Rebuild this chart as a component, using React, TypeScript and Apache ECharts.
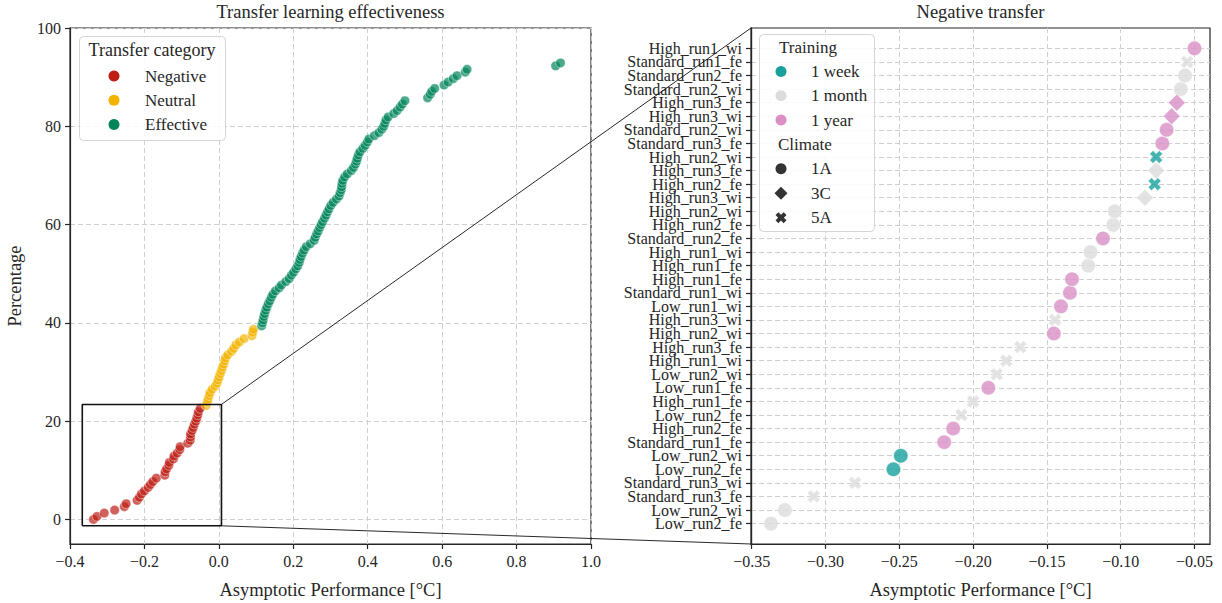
import React, { useEffect, useRef } from "react";
import * as echarts from "echarts";

// ---------------- data ----------------
// Right panel (negative transfer), bottom -> top
const negLabels = [
  "Low_run2_fe", "Low_run2_wi", "Standard_run3_fe", "Standard_run3_wi", "Low_run2_fe", "Low_run2_wi",
  "Standard_run1_fe", "High_run2_fe", "Low_run2_fe", "High_run1_fe", "Low_run1_fe", "Low_run2_wi",
  "High_run1_wi", "High_run3_fe", "High_run2_wi", "High_run3_wi", "Low_run1_wi", "Standard_run1_wi",
  "High_run1_fe", "High_run1_fe", "High_run1_wi", "Standard_run2_fe", "High_run2_fe", "High_run2_wi",
  "High_run3_wi", "High_run2_fe", "High_run3_fe", "High_run2_wi", "Standard_run3_fe", "Standard_run2_wi",
  "High_run3_wi", "High_run3_fe", "Standard_run2_wi", "Standard_run2_fe", "Standard_run1_fe", "High_run1_wi",
];
const negValues = [
  -0.337, -0.3275, -0.308, -0.28, -0.254, -0.249, -0.2196, -0.2135, -0.208, -0.2, -0.1897, -0.184,
  -0.1775, -0.168, -0.1453, -0.1445, -0.1405, -0.1344, -0.133, -0.122, -0.1205, -0.112, -0.105, -0.104,
  -0.0836, -0.077, -0.076, -0.076, -0.0718, -0.0689, -0.0655, -0.062, -0.0593, -0.0564, -0.055, -0.05,
];
const negTraining = [
  "1 month", "1 month", "1 month", "1 month", "1 week", "1 week", "1 year", "1 year", "1 month", "1 month", "1 year", "1 month",
  "1 month", "1 month", "1 year", "1 month", "1 year", "1 year", "1 year", "1 month", "1 month", "1 year", "1 month", "1 month",
  "1 month", "1 week", "1 month", "1 week", "1 year", "1 year", "1 year", "1 year", "1 month", "1 month", "1 month", "1 year",
];
const negClimate = [
  "1A", "1A", "5A", "5A", "1A", "1A", "1A", "1A", "5A", "5A", "1A", "5A",
  "5A", "5A", "1A", "5A", "1A", "1A", "1A", "1A", "1A", "1A", "1A", "1A",
  "3C", "5A", "3C", "5A", "1A", "1A", "3C", "3C", "1A", "1A", "5A", "1A",
];
// Left panel percentages for the negative runs (same x values as negValues)
const negPercent = [
  0.0, 0.6, 1.3, 1.9, 2.6, 3.2, 3.9, 4.5, 5.2, 5.8, 6.5, 7.1, 7.7, 8.4, 9.0, 9.7, 10.3, 11.0,
  11.6, 12.3, 12.9, 13.5, 14.2, 14.8, 15.5, 16.1, 16.8, 17.4, 18.1, 18.7, 19.4, 20.0, 20.6, 21.3, 21.9, 22.6,
];
const neutralValues = [
  -0.034, -0.031, -0.029, -0.026, -0.024, -0.018, -0.01, -0.005, -0.002, 0.001, 0.004, 0.007, 0.01,
  0.013, 0.016, 0.018, 0.024, 0.034, 0.04, 0.046, 0.055, 0.068, 0.089, 0.091, 0.093,
];
const neutralPercent = [
  23.2, 23.9, 24.5, 25.2, 25.8, 26.5, 27.1, 27.7, 28.4, 29.0, 29.7, 30.3, 31.0,
  31.6, 32.3, 32.9, 33.5, 34.2, 34.8, 35.5, 36.1, 36.8, 37.4, 38.1, 38.7,
];
const effectiveValues = [
  0.115, 0.117, 0.119, 0.121, 0.123, 0.126, 0.129, 0.133, 0.137, 0.141,
  0.145, 0.152, 0.162, 0.168, 0.18, 0.189, 0.195, 0.201, 0.207, 0.212,
  0.216, 0.218, 0.221, 0.225, 0.229, 0.235, 0.246, 0.256, 0.259, 0.263,
  0.267, 0.271, 0.275, 0.279, 0.284, 0.288, 0.292, 0.296, 0.301, 0.307,
  0.316, 0.323, 0.326, 0.329, 0.33, 0.331, 0.333, 0.338, 0.345, 0.356,
  0.362, 0.367, 0.37, 0.372, 0.375, 0.379, 0.387, 0.393, 0.399, 0.403,
  0.418, 0.43, 0.438, 0.443, 0.446, 0.449, 0.455, 0.47, 0.479, 0.487,
  0.493, 0.5, 0.561, 0.568, 0.572, 0.58, 0.605, 0.616, 0.63, 0.64,
  0.662, 0.667, 0.905, 0.918,
];
const effectivePercent = [
  39.4, 40.0, 40.6, 41.3, 41.9, 42.6, 43.2, 43.9, 44.5, 45.2,
  45.8, 46.5, 47.1, 47.7, 48.4, 49.0, 49.7, 50.3, 51.0, 51.6,
  52.3, 52.9, 53.5, 54.2, 54.8, 55.5, 56.1, 56.8, 57.4, 58.1,
  58.7, 59.4, 60.0, 60.6, 61.3, 61.9, 62.6, 63.2, 63.9, 64.5,
  65.2, 65.8, 66.5, 67.1, 67.7, 68.4, 69.0, 69.7, 70.3, 71.0,
  71.6, 72.3, 72.9, 73.5, 74.2, 74.8, 75.5, 76.1, 76.8, 77.4,
  78.1, 78.7, 79.4, 80.0, 80.6, 81.3, 81.9, 82.6, 83.2, 83.9,
  84.5, 85.2, 85.8, 86.5, 87.1, 87.7, 88.4, 89.0, 89.7, 90.3,
  91.0, 91.6, 92.3, 92.9,
];

const categoryNames = ["Negative", "Neutral", "Effective"];
const trainingNames = ["1 week", "1 month", "1 year"];
const climateNames = ["1A", "3C", "5A"];

const leftYTicks = [0, 20, 40, 60, 80, 100];
const rightXTicks = [-0.35, -0.3, -0.25, -0.2, -0.15, -0.1, -0.05];

// zoom box on the left panel (data coordinates)
const zoomBox = { x0: -0.367, x1: 0.007, y0: -1.3, y1: 23.4 };

// ---------------- styling ----------------
const FONT = "'Liberation Serif', 'Times New Roman', 'DejaVu Serif', serif";
const INK = "#262626";
const GRIDC = "#cfcfcf";
const catColors: Record<string, string> = { Negative: "#bd1f15", Neutral: "#f2b400", Effective: "#00855a" };
const trainColors: Record<string, string> = { "1 week": "#17a09c", "1 month": "#dcdcdc", "1 year": "#d98fc6" };
const X_PTS = [[2.6, 0], [5, 2.4], [7.4, 0], [10, 2.6], [7.6, 5], [10, 7.4], [7.4, 10], [5, 7.6], [2.6, 10], [0, 7.4], [2.4, 5], [0, 2.6]];
const X_PATH = "path://M" + X_PTS.map((p) => p.join(",")).join("L") + "Z";
const climateSymbol: Record<string, string> = { "1A": "circle", "3C": "diamond", "5A": X_PATH };
const climateSize: Record<string, number> = { "1A": 14.5, "3C": 17, "5A": 13 };

const L = { left: 70, top: 28, width: 521, height: 516 };
const R = { left: 751, top: 28, width: 459, height: 516 };
const R_XMIN = -0.3505;
const R_XMAX = -0.0395;
const R_YMIN = -1.5;
const R_YMAX = 36.5;

function fmt(v: number, d: number) {
  const s = Math.abs(v).toFixed(d);
  return v < -1e-9 ? "\u2212" + s : s;
}

const tickStyle = { show: true, inside: false, length: 5, lineStyle: { color: INK, width: 1.2 } };
const splitStyle = { show: true, lineStyle: { color: GRIDC, width: 1, type: [5, 3] as any } };
const labelBase = { fontFamily: FONT, fontSize: 16, color: INK, showMinLabel: true, showMaxLabel: true, hideOverlap: false };
const nameStyle = { fontFamily: FONT, fontSize: 18.5, color: INK };
const axisLineStyle = { show: true, onZero: false, lineStyle: { color: INK, width: 1.2 } };

function xPoly(cx: number, cy: number, size: number) {
  const s = size / 10;
  return X_PTS.map(([px, py]) => [cx - size / 2 + px * s, cy - size / 2 + py * s]);
}

function buildLegends(): any[] {
  const g: any[] = [];
  // left legend
  g.push({ type: "rect", shape: { x: 79.5, y: 36.5, width: 146, height: 104, r: 4 }, style: { fill: "rgba(255,255,255,0.85)", stroke: "#d4d4d4", lineWidth: 1 }, z: 50 });
  g.push({ type: "text", x: 152, y: 50, style: { text: "Transfer category", font: `18px ${FONT}`, fill: INK, align: "center", verticalAlign: "middle" }, z: 51 });
  categoryNames.forEach((n, i) => {
    const y = 76 + i * 24.3;
    g.push({ type: "circle", shape: { cx: 114, cy: y, r: 5.5 }, style: { fill: catColors[n] }, z: 51 });
    g.push({ type: "text", x: 145, y, style: { text: n, font: `17px ${FONT}`, fill: INK, verticalAlign: "middle" }, z: 51 });
  });
  // right legend
  g.push({ type: "rect", shape: { x: 759.5, y: 34.5, width: 115, height: 197, r: 4 }, style: { fill: "rgba(255,255,255,0.85)", stroke: "#d4d4d4", lineWidth: 1 }, z: 50 });
  g.push({ type: "text", x: 779, y: 47, style: { text: "Training", font: `17px ${FONT}`, fill: INK, verticalAlign: "middle" }, z: 51 });
  trainingNames.forEach((n, i) => {
    const y = 71.5 + i * 24.3;
    g.push({ type: "circle", shape: { cx: 781, cy: y, r: 5.5 }, style: { fill: trainColors[n] }, z: 51 });
    g.push({ type: "text", x: 811, y, style: { text: n, font: `17px ${FONT}`, fill: INK, verticalAlign: "middle" }, z: 51 });
  });
  g.push({ type: "text", x: 778, y: 144, style: { text: "Climate", font: `17px ${FONT}`, fill: INK, verticalAlign: "middle" }, z: 51 });
  climateNames.forEach((n, i) => {
    const y = 168.7 + i * 24.5;
    if (n === "1A") g.push({ type: "circle", shape: { cx: 781, cy: y, r: 5.5 }, style: { fill: "#333333" }, z: 51 });
    else if (n === "3C") g.push({ type: "polygon", shape: { points: [[781, y - 6.5], [787.5, y], [781, y + 6.5], [774.5, y]] }, style: { fill: "#333333" }, z: 51 });
    else g.push({ type: "polygon", shape: { points: xPoly(781, y, 11) }, style: { fill: "#333333" }, z: 51 });
    g.push({ type: "text", x: 811, y, style: { text: n, font: `17px ${FONT}`, fill: INK, verticalAlign: "middle" }, z: 51 });
  });
  // titles
  g.push({ type: "text", x: L.left + L.width / 2, y: 12, style: { text: "Transfer learning effectiveness", font: `18.5px ${FONT}`, fill: INK, align: "center", verticalAlign: "middle" } });
  g.push({ type: "text", x: R.left + R.width / 2, y: 12, style: { text: "Negative transfer", font: `18.5px ${FONT}`, fill: INK, align: "center", verticalAlign: "middle" } });
  return g;
}

export default function App() {
  const ref = useRef<HTMLDivElement>(null);
  useEffect(() => {
    if (!ref.current) return;
    const chart = echarts.init(ref.current, undefined, { renderer: "svg" });

    const leftSeries = [
      { name: "Negative", xs: negValues, ys: negPercent },
      { name: "Neutral", xs: neutralValues, ys: neutralPercent },
      { name: "Effective", xs: effectiveValues, ys: effectivePercent },
    ].map((s) => ({
      type: "scatter",
      name: s.name,
      xAxisIndex: 0,
      yAxisIndex: 0,
      symbol: "circle",
      symbolSize: 9.5,
      itemStyle: { color: catColors[s.name], opacity: 0.7, borderColor: "#ffffff", borderWidth: 0.6 },
      data: s.xs.map((x, i) => [x, s.ys[i]]),
      z: 3,
    }));

    const rightSeries = trainingNames.map((t) => ({
      type: "scatter",
      name: t,
      xAxisIndex: 1,
      yAxisIndex: 1,
      itemStyle: { color: trainColors[t], borderColor: "#ffffff", borderWidth: 0.7 },
      data: negValues
        .map((x, i) => ({ i, x }))
        .filter((d) => negTraining[d.i] === t)
        .map((d) => ({
          value: [d.x, d.i],
          symbol: climateSymbol[negClimate[d.i]],
          symbolSize: climateSize[negClimate[d.i]],
        })),
      z: 3,
    }));

    const boxSeries = {
      type: "line",
      xAxisIndex: 0,
      yAxisIndex: 0,
      silent: true,
      symbol: "none",
      lineStyle: { color: "#111111", width: 1.6 },
      data: [
        [zoomBox.x0, zoomBox.y0], [zoomBox.x1, zoomBox.y0], [zoomBox.x1, zoomBox.y1],
        [zoomBox.x0, zoomBox.y1], [zoomBox.x0, zoomBox.y0],
      ],
      z: 5,
    };

    // the 36 row labels are split over two overlaid axes (even / odd rows) so none is dropped
    const evenRows = negLabels.map((_, i) => i).filter((i) => i % 2 === 0);
    const oddRows = negLabels.map((_, i) => i).filter((i) => i % 2 === 1);
    const rowAxis = (rows: number[]) => ({
      type: "value", gridIndex: 1, min: R_YMIN, max: R_YMAX, position: "left", offset: 0,
      axisLine: axisLineStyle,
      axisTick: { ...tickStyle, customValues: rows },
      axisLabel: {
        ...labelBase, margin: 9,
        customValues: rows,
        formatter: (v: number) => negLabels[Math.round(v)] ?? "",
      },
      splitLine: splitStyle,
    });

    const option: any = {
      animation: false,
      backgroundColor: "#ffffff",
      grid: [
        { ...L, show: true, borderColor: INK, borderWidth: 1.2, backgroundColor: "transparent", containLabel: false, outerBoundsMode: "none" },
        { ...R, show: true, borderColor: INK, borderWidth: 1.2, backgroundColor: "transparent", containLabel: false, outerBoundsMode: "none" },
      ],
      xAxis: [
        {
          type: "value", gridIndex: 0, min: -0.4, max: 1.0, interval: 0.2,
          axisLine: axisLineStyle,
          axisTick: tickStyle,
          axisLabel: { ...labelBase, margin: 9, formatter: (v: number) => fmt(v, 1) },
          splitLine: splitStyle,
          name: "Asymptotic Performance [°C]", nameLocation: "middle", nameGap: 36, nameTextStyle: nameStyle,
        },
        {
          type: "value", gridIndex: 1, min: R_XMIN, max: R_XMAX,
          axisLine: axisLineStyle,
          axisTick: { ...tickStyle, customValues: rightXTicks },
          axisLabel: { ...labelBase, margin: 9, customValues: rightXTicks, formatter: (v: number) => fmt(v, 2) },
          splitLine: splitStyle,
          name: "Asymptotic Performance [°C]", nameLocation: "middle", nameGap: 36, nameTextStyle: nameStyle,
        },
      ],
      yAxis: [
        {
          type: "value", gridIndex: 0, min: -5, max: 100,
          axisLine: axisLineStyle,
          axisTick: { ...tickStyle, customValues: leftYTicks },
          axisLabel: { ...labelBase, margin: 9, customValues: leftYTicks, formatter: (v: number) => String(v) },
          splitLine: splitStyle,
          name: "Percentage", nameLocation: "middle", nameGap: 46, nameRotate: 90, nameTextStyle: nameStyle,
        },
        rowAxis(evenRows),
        rowAxis(oddRows),
      ],
      series: [...leftSeries, ...rightSeries, boxSeries],
      graphic: buildLegends(),
    };
    chart.setOption(option);

    const a = chart.convertToPixel({ xAxisIndex: 0, yAxisIndex: 0 }, [zoomBox.x1, zoomBox.y1]) as number[];
    const b = chart.convertToPixel({ xAxisIndex: 0, yAxisIndex: 0 }, [zoomBox.x1, zoomBox.y0]) as number[];
    const c = chart.convertToPixel({ xAxisIndex: 1, yAxisIndex: 1 }, [R_XMIN, R_YMAX]) as number[];
    const d = chart.convertToPixel({ xAxisIndex: 1, yAxisIndex: 1 }, [R_XMIN, R_YMIN]) as number[];
    chart.setOption({
      graphic: [
        ...buildLegends(),
        { type: "line", shape: { x1: a[0], y1: a[1], x2: c[0], y2: c[1] }, style: { stroke: "#111111", lineWidth: 0.9 }, z: 60 },
        { type: "line", shape: { x1: b[0], y1: b[1], x2: d[0], y2: d[1] }, style: { stroke: "#111111", lineWidth: 0.9 }, z: 60 },
      ],
    });

    return () => chart.dispose();
  }, []);
  return (
    <div
      ref={ref}
      style={{ position: "fixed", left: 0, top: 0, width: 1222, height: 603, background: "#ffffff" }}
    />
  );
}
